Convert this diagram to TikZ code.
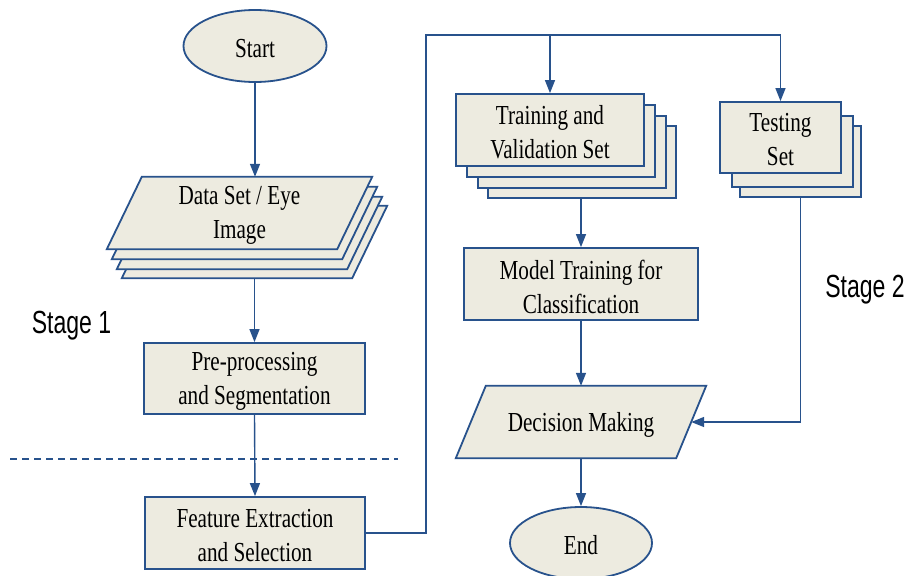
\documentclass[tikz,border=0pt]{standalone}
\usepackage{fontspec}
\setmainfont{Liberation Serif}[FakeStretch=0.77]
\newfontfamily\stagefont{Liberation Sans}[FakeStretch=0.72]
\usetikzlibrary{arrows.meta,shapes.geometric,backgrounds}
\definecolor{boxfill}{RGB}{237,235,224}
\definecolor{edge}{RGB}{40,82,140}
\newcommand\parapath[2]{%
  \path[shapeline] ([xshift=#2]#1.north west) -- ([xshift=#2]#1.north east)
    -- ([xshift=-#2]#1.south east) -- ([xshift=-#2]#1.south west) -- cycle;}
\newcommand\lw[1]{\raisebox{-2.5pt}[\height][\depth]{#1}}
\begin{document}
\begin{tikzpicture}[x=1pt,y=-1pt,
  shapeline/.style={draw=edge, line width=1.8pt, fill=boxfill},
  txt/.style={font=\fontsize{27.5pt}{34pt}\selectfont, align=center},
  box/.style={shapeline, txt, rectangle, inner sep=0pt},
  oval/.style={shapeline, txt, ellipse, inner sep=0pt, minimum width=143pt, minimum height=72pt},
  pnode/.style={txt, rectangle, inner sep=0pt, minimum height=72pt},
  conn/.style={draw=edge, line width=1.4pt, -{Triangle[length=13pt,width=10pt]}},
  plain/.style={draw=edge, line width=1.4pt},
  stage/.style={font=\stagefont\fontsize{32pt}{38pt}\selectfont, anchor=base}]
\useasboundingbox (0,0) rectangle (911,576);

% Start
\node[oval] (start) at (255,46) {\lw{Start}};

% Data set stack (parallelograms)
\node[pnode, minimum width=230pt] (ds4) at (254.5,242) {};
\node[pnode, minimum width=230pt] (ds3) at (249.5,233) {};
\node[pnode, minimum width=230pt] (ds2) at (244.5,223) {};
\node[pnode, minimum width=230pt] (ds1) at (239.5,213) {\lw{Data Set / Eye}\\\lw{Image}};
\begin{scope}[on background layer]
  \parapath{ds4}{17.5pt}
  \parapath{ds3}{17.5pt}
  \parapath{ds2}{17.5pt}
  \parapath{ds1}{17.5pt}
\end{scope}

% Pre-processing and feature extraction
\node[box, minimum width=221pt, minimum height=71pt] (pre) at (254.5,378.5) {\lw{Pre-processing}\\\lw{and Segmentation}};
\node[box, minimum width=220pt, minimum height=72pt] (fe) at (255,533) {\lw{Feature Extraction}\\\lw{and Selection}};

% Training stack
\node[box, minimum width=188pt, minimum height=72pt] (tv4) at (582,162) {};
\node[box, minimum width=188pt, minimum height=72pt] (tv3) at (572,152) {};
\node[box, minimum width=188pt, minimum height=72pt] (tv2) at (561,141) {};
\node[box, minimum width=188pt, minimum height=72pt] (tv1) at (550,130) {\lw{Training and}\\\lw{Validation Set}};

% Testing stack
\node[box, minimum width=121pt, minimum height=71pt] (ts3) at (800.5,161.5) {};
\node[box, minimum width=121pt, minimum height=71pt] (ts2) at (792.5,151.5) {};
\node[box, minimum width=121pt, minimum height=71pt] (ts1) at (780.5,137.5) {\lw{Testing}\\\lw{Set}};

% Model training
\node[box, minimum width=234pt, minimum height=72pt] (mt) at (581,284) {\lw{Model Training for}\\\lw{Classification}};

% Decision making (parallelogram)
\node[pnode, minimum width=220pt] (dm) at (581,422) {\lw{Decision Making}};
\begin{scope}[on background layer]
  \parapath{dm}{15pt}
\end{scope}

% End
\node[oval, minimum width=142pt] (end) at (581,543) {\lw{End}};

% Stage labels
\node[stage] (s1) at (71.5,333) {Stage 1};
\node[stage] (s2) at (865,297) {Stage 2};

% Dashed separator
\coordinate (dl) at (10,459);
\coordinate (dr) at (398,459);
\draw[draw=edge, line width=1.4pt, dash pattern=on 7pt off 5pt] (dl) -- (dr);

% Connectors
\draw[conn] (start.south) -- (start.south |- ds1.north);
\draw[conn] (pre.north |- ds4.south) -- (pre.north);
\draw[conn] (pre.south) -- (fe.north);
\coordinate (j1) at (426,35);
\coordinate (j2) at (550,35);
\draw[conn] (fe.east) -| (j1) -| (ts1.north);
\draw[conn] (j2) -- (tv1.north);
\draw[conn] (mt.north |- tv4.south) -- (mt.north);
\draw[conn] (mt.south) -- (dm.north);
\draw[conn] (ts3.south) |- (dm.east);
\draw[conn] (dm.south) -- (end.north);
\end{tikzpicture}
\end{document}
